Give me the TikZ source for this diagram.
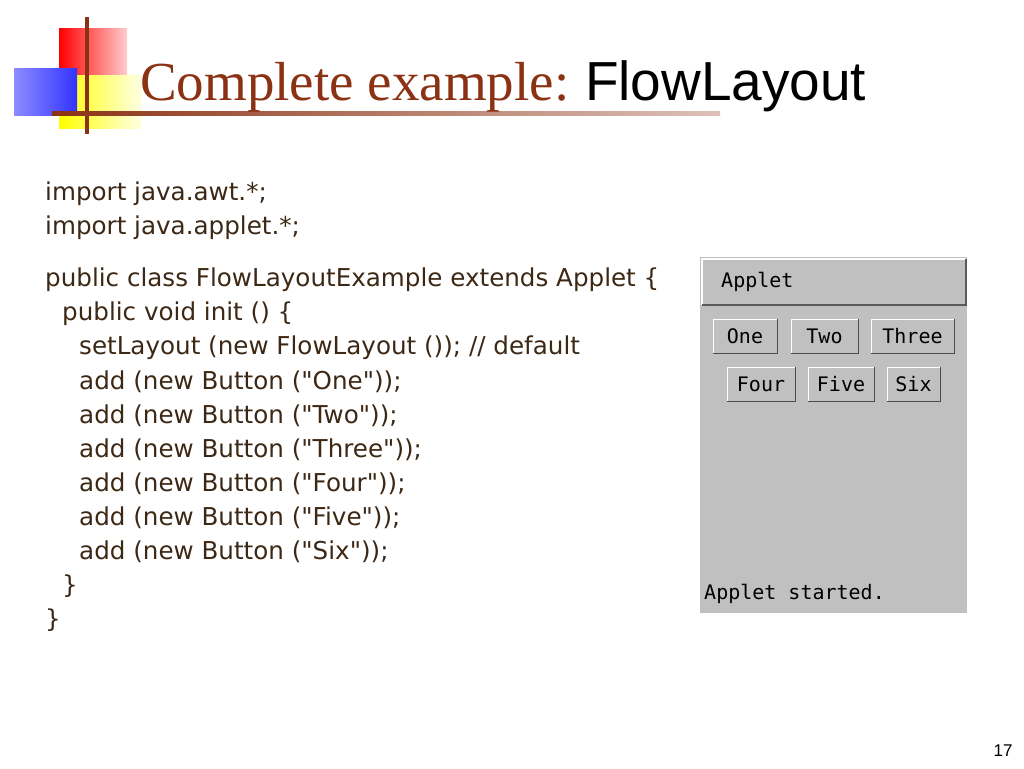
\documentclass[tikz,border=0pt]{standalone}
\usepackage{fontspec}
\setmainfont{Liberation Serif}
\newfontfamily\codefont{DejaVu Sans}
\newfontfamily\uifont{DejaVu Sans Mono}
\newfontfamily\headsans{Liberation Sans}
\definecolor{brownt}{RGB}{140,50,20}
\definecolor{codec}{RGB}{60,40,20}
\definecolor{awt}{RGB}{192,192,192}
\tikzset{
  btn/.style={draw=white, fill=awt, minimum height=34pt, inner sep=0pt, font=\uifont\fontsize{20}{20}\selectfont},
  code/.style={anchor=west, inner sep=0pt, text=codec, font=\codefont\fontsize{24.6}{24.6}\selectfont},
}
\begin{document}
\begin{tikzpicture}[x=1pt,y=-1pt]
\useasboundingbox (0,0) rectangle (1024,768);
\fill[white] (0,0) rectangle (1024,768);
% logo
\shade[left color=red, right color=red!20] (59,29) rectangle (127,75);
\shade[left color=yellow, right color=yellow!10] (59,75) rectangle (142,128);
\shade[left color=blue!45, right color=blue!80] (14,68) rectangle (77,115);
\fill[brownt] (85,17) rectangle (89,134);
\shade[left color=brownt, right color=brownt!30] (52,111) rectangle (720,115);
% title
\node[anchor=base west, inner sep=0pt, text=brownt, font=\fontsize{55}{55}\selectfont] (t1) at (140,100) {Complete example:};
\node[anchor=base west, inner sep=0pt, font=\headsans\fontsize{55}{55}\selectfont] (t2) at (t1.base east) {\ FlowLayout};
% code
\node[code] (c1) at (45,194) {import java.awt.*;};
\node[code] (c2) at (45,228) {import java.applet.*;};
\node[code] (c3) at (45,280) {public class FlowLayoutExample extends Applet \{};
\node[code] (c4) at (62,314) {public void init () \{};
\node[code] (c5) at (79,348) {setLayout (new FlowLayout ()); // default};
\node[code] (c6) at (79,382) {add (new Button ("One"));};
\node[code] (c7) at (79,416) {add (new Button ("Two"));};
\node[code] (c8) at (79,450) {add (new Button ("Three"));};
\node[code] (c9) at (79,484) {add (new Button ("Four"));};
\node[code] (c10) at (79,518) {add (new Button ("Five"));};
\node[code] (c11) at (79,552) {add (new Button ("Six"));};
\node[code] (c12) at (62,586) {\}};
\node[code] (c13) at (45,620) {\}};
% applet
\fill[awt] (700,257) rectangle (967,613);
\fill[awt] (702,259) rectangle (966,305);
\draw[white, line width=1.5pt] (702,305) -- (702,259) -- (966,259);
\draw[gray!70!black, line width=2pt] (702,305) -- (966,305) -- (966,259);
\node[anchor=west, inner sep=0pt, font=\uifont\fontsize{20}{20}\selectfont] (at) at (721,282) {Applet};
\node[btn, minimum width=64pt] (b1) at (745,336) {One};
\node[btn, minimum width=67pt] (b2) at (824.5,336) {Two};
\node[btn, minimum width=83pt] (b3) at (912.5,336) {Three};
\node[btn, minimum width=68pt] (b4) at (761,384) {Four};
\node[btn, minimum width=66pt] (b5) at (841,384) {Five};
\node[btn, minimum width=53pt] (b6) at (913.5,384) {Six};
\foreach \b in {b1,b2,b3,b4,b5,b6}{\draw[gray!60!black, line width=1pt] (\b.south west) -- (\b.south east) -- (\b.north east);}
\node[anchor=west, inner sep=0pt, font=\uifont\fontsize{20}{20}\selectfont] (st) at (704,594) {Applet started.};
\node[inner sep=0pt, font=\headsans\fontsize{17}{17}\selectfont] (pg) at (1003,751) {17};
\end{tikzpicture}
\end{document}
